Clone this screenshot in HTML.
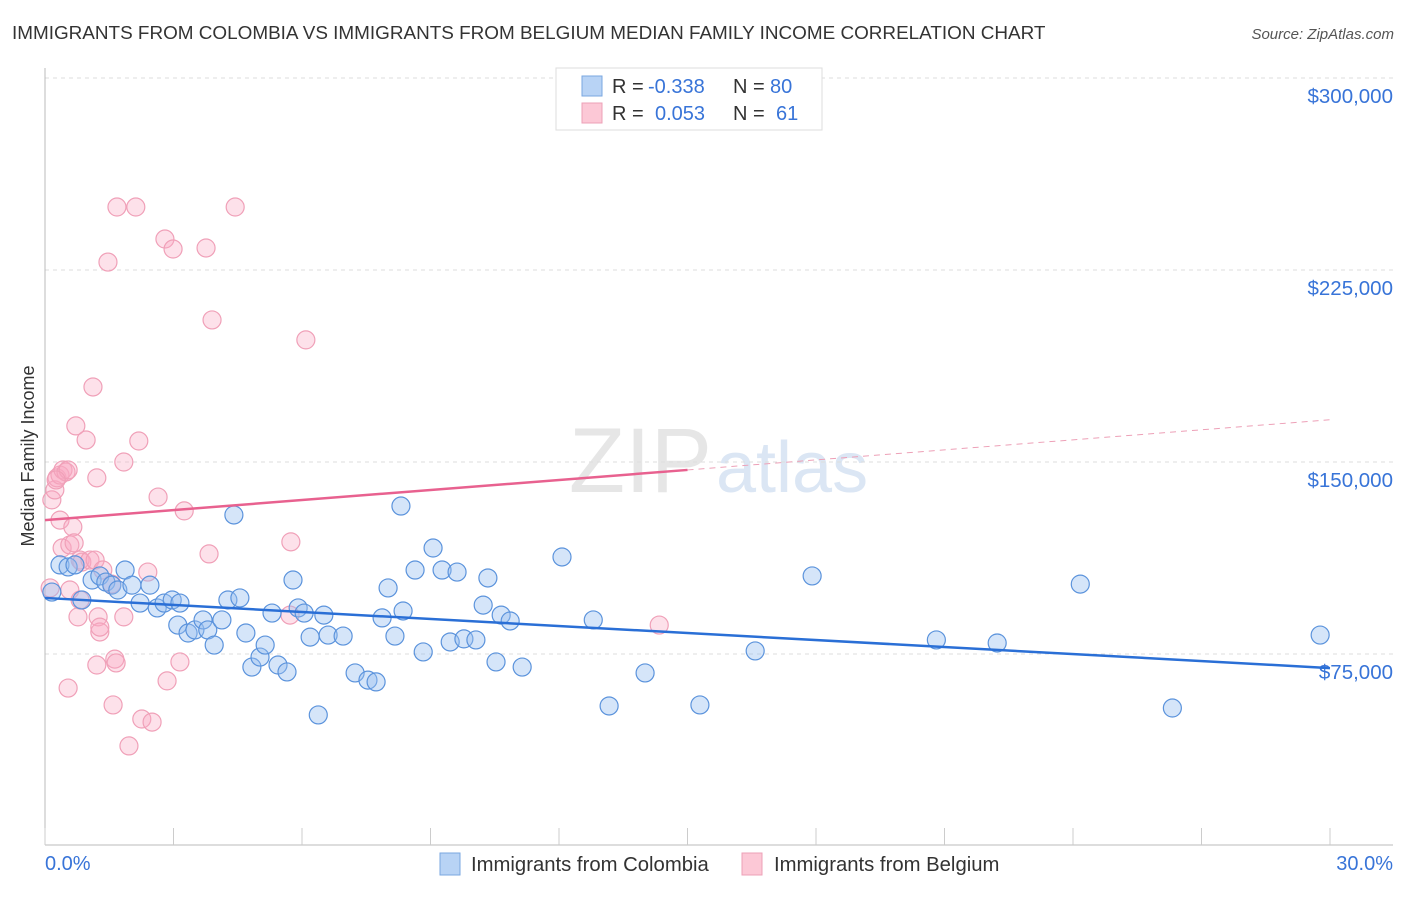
<!DOCTYPE html>
<html><head><meta charset="utf-8">
<style>
body{margin:0;background:#fff;font-family:"Liberation Sans",sans-serif;}
svg text{font-family:"Liberation Sans",sans-serif;}
</style></head>
<body>
<svg id="chart" width="1406" height="892" xmlns="http://www.w3.org/2000/svg">
<text x="12" y="39" font-size="18.9" fill="#333">IMMIGRANTS FROM COLOMBIA VS IMMIGRANTS FROM BELGIUM MEDIAN FAMILY INCOME CORRELATION CHART</text>
<text x="1394" y="39" font-size="15" fill="#555" text-anchor="end" font-style="italic">Source: ZipAtlas.com</text>
<text x="712" y="492" font-size="92" fill="#e6e6e6" text-anchor="end" font-family="Liberation Serif">ZIP</text>
<text x="716" y="492" font-size="72" fill="#dbe6f4">atlas</text>
<text transform="translate(34,456) rotate(-90)" font-size="18" fill="#333" text-anchor="middle">Median Family Income</text>
<g id="grid"></g><g id="axes"></g><g id="pts"></g><g id="lines"></g>
<g>
<rect x="556" y="68" width="266" height="62" fill="#fff" stroke="#ddd"/>
<rect x="582" y="76" width="20" height="20" fill="#b8d3f5" stroke="#7aa7e0"/>
<rect x="582" y="103" width="20" height="20" fill="#fcc8d6" stroke="#eda0b7"/>
<text x="612" y="93" font-size="20" fill="#333">R =</text>
<text x="648" y="93" font-size="20" fill="#3874d8">-0.338</text>
<text x="733" y="93" font-size="20" fill="#333">N =</text>
<text x="770" y="93" font-size="20" fill="#3874d8">80</text>
<text x="612" y="120" font-size="20" fill="#333">R =</text>
<text x="655" y="120" font-size="20" fill="#3874d8">0.053</text>
<text x="733" y="120" font-size="20" fill="#333">N =</text>
<text x="776" y="120" font-size="20" fill="#3874d8">61</text>
</g>
<g>
<rect x="440" y="853" width="20" height="22" fill="#b8d3f5" stroke="#7aa7e0"/>
<text x="471" y="871" font-size="20.3" fill="#333">Immigrants from Colombia</text>
<rect x="742" y="853" width="20" height="22" fill="#fcc8d6" stroke="#eda0b7"/>
<text x="774" y="871" font-size="20.3" fill="#333">Immigrants from Belgium</text>
</g>
</svg>
<script>
const yTicks=[300,225,150,75];
const yTickLabels=["$300,000","$225,000","$150,000","$75,000"];
const xTickLabels=["0.0%","30.0%"];
const colX=[0.16,0.35,0.54,0.7,0.86,1.1,1.28,1.42,1.56,1.7,1.87,2.03,2.22,2.45,2.62,2.78,2.97,3.15,3.1,3.34,3.5,3.69,3.8,3.95,4.13,4.27,4.41,4.55,4.69,4.83,5.02,5.14,5.3,5.44,5.65,5.79,5.91,6.05,6.19,6.38,6.51,6.61,6.96,7.24,7.54,7.73,7.87,8.01,8.17,8.36,8.31,8.64,8.83,9.06,9.27,9.46,9.62,9.78,10.06,10.23,10.34,10.53,10.65,10.86,11.14,12.07,12.8,13.17,14.01,15.29,16.58,17.91,20.81,22.23,24.17,26.32,29.77];
const colY=[99.2,109.8,109,109.8,96.1,103.9,105.5,103.1,101.9,100,107.8,101.9,94.9,101.9,93,94.9,96.1,94.9,86.3,83.2,84.4,88.3,84.4,78.5,88.3,96.1,129.3,96.9,83.2,69.9,73.8,78.5,91,70.7,68,103.9,93,91,81.6,51.2,90.2,82.4,82,67.6,64.8,64.1,89.1,100.8,82,91.8,132.8,107.8,75.8,116.4,107.8,79.7,107,80.9,80.5,94.1,104.7,71.9,90.2,87.9,69.9,112.9,88.3,54.7,67.6,55.1,76.2,105.5,80.5,79.3,102.3,53.9,82.4];
const belX=[0.12,0.16,0.23,0.28,0.35,0.42,0.49,0.54,0.35,0.4,0.58,0.65,0.68,0.72,0.77,0.82,0.86,0.96,1.05,1.17,1.12,1.21,1.24,1.28,1.21,1.28,1.35,1.47,1.56,1.59,1.63,1.66,1.68,1.84,1.84,1.96,2.12,2.19,2.26,2.4,2.5,2.64,2.8,2.85,2.99,3.15,3.25,3.76,3.83,3.9,4.44,5.74,5.72,6.09,14.34,0.58,0.54,0.26,0.82];
const belY=[100.8,135.2,139.1,143.8,144.9,146.9,146.1,146.9,127.3,116.4,117.6,124.6,118.4,164.1,89.5,111.7,110.9,158.6,111.7,111.7,179.3,143.8,89.5,83.6,70.7,85.5,107.8,228.1,102.3,55.1,73,71.5,249.6,150,89.5,39.1,249.6,158.2,49.6,107,48.4,136.3,237.1,64.5,233.2,71.9,130.9,233.6,114.1,205.5,249.6,118.8,90.2,197.7,86.3,100,61.7,143,96.1];
const colLine=[96.9,69.5];
const belLine=[127.3,166.5];
const x=v=>45+v/30*1285, y=v=>78+(300-v)*192/75;
const NS="http://www.w3.org/2000/svg";
function mk(t,a,p){const e=document.createElementNS(NS,t);for(const k in a)e.setAttribute(k,a[k]);p.appendChild(e);return e;}
const G=document.getElementById('grid'),A=document.getElementById('axes'),P=document.getElementById('pts'),L=document.getElementById('lines');
yTicks.forEach((t,i)=>{
 const g=mk('line',{x1:45,x2:1393,y1:y(t),y2:y(t),stroke:'#ddd','stroke-dasharray':'4,4'},G);
 
 
 const tx=mk('text',{x:1393,y:y(t)+25,'font-size':20.5,fill:'#3874d8','text-anchor':'end'},A);
 tx.textContent=yTickLabels[i];
 
 
});
mk('line',{x1:45,x2:45,y1:68,y2:845,stroke:'#bbb'},A);
const xa=mk('line',{x1:45,x2:1393,y1:845,y2:845,stroke:'#bbb'},A);


for(let i=0;i<=10;i++){const t=mk('line',{x1:x(i*3),x2:x(i*3),y1:828,y2:845,stroke:'#ccc'},A);
 
 }
[[0,'start',45],[1,'end',1393]].forEach(([i,a,px])=>{const t=mk('text',{x:px,y:870,'font-size':20,fill:'#3874d8','text-anchor':a},A);t.textContent=xTickLabels[i];
 
 });
belX.forEach((v,i)=>{const c=mk('circle',{cx:x(v),cy:y(belY[i]),r:9,fill:'rgba(248,170,195,0.35)',stroke:'#f0a0b8','stroke-width':1.2},P);
 
 });
colX.forEach((v,i)=>{const c=mk('circle',{cx:x(v),cy:y(colY[i]),r:9,fill:'rgba(150,190,240,0.4)',stroke:'#5b93dc','stroke-width':1.2},P);
 
 });
const cl=mk('line',{x1:x(0),y1:y(colLine[0]),x2:x(30),y2:y(colLine[1]),stroke:'#2a6fd6','stroke-width':2.5},L);


const bm=belLine[0]+(belLine[1]-belLine[0])*15/30;
const b1=mk('line',{x1:x(0),y1:y(belLine[0]),x2:x(15),y2:y(bm),stroke:'#e8618f','stroke-width':2.5},L);


const b2=mk('line',{x1:x(15),y1:y(bm),x2:x(30),y2:y(belLine[1]),stroke:'#eda0b7','stroke-width':1,'stroke-dasharray':'6,5'},L);


</script>
</body></html>
